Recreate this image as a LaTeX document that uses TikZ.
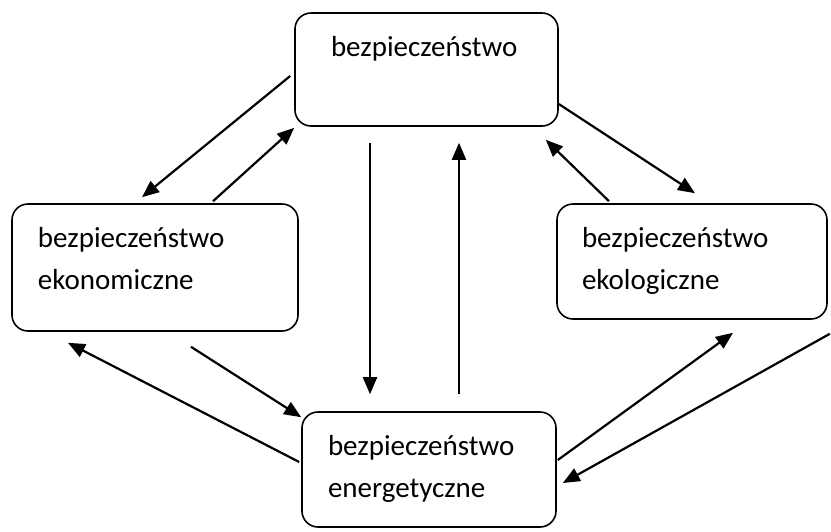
\documentclass[tikz,border=0pt]{standalone}
\usepackage{fontspec}
\setmainfont{Carlito}
\usetikzlibrary{arrows.meta}
\tikzset{
  blok/.style={draw,line width=0.8pt,rounded corners=8pt,align=left,
    inner ysep=0pt,text height=21.5pt,font=\fontsize{14.5}{21}\selectfont},
}
\begin{document}
\begin{tikzpicture}[x=0.5pt,y=-0.5pt,>={Triangle[length=8.5pt,width=7pt]},line width=1.1pt]
  \useasboundingbox (0,0) rectangle (831,531);

  % bloki
  \node[blok,minimum width=131.5pt,minimum height=56.5pt,inner xsep=18pt,text width=95.5pt,
    text depth=35pt] (bezp) at (426.5,69.5) {bezpieczeństwo};
  \node[blok,minimum width=143pt,minimum height=63.5pt,inner xsep=13pt,text width=117pt,
    text depth=42pt] (ekon) at (155,267.5) {bezpieczeństwo\\ekonomiczne};
  \node[blok,minimum width=135pt,minimum height=57.5pt,inner xsep=12.5pt,text width=110pt,
    text depth=36pt] (ekol) at (692,261.5) {bezpieczeństwo\\ekologiczne};
  \node[blok,minimum width=127pt,minimum height=57.5pt,inner xsep=13pt,text width=101pt,
    text depth=36pt] (ener) at (429,469.5) {bezpieczeństwo\\energetyczne};

  % strzałki
  \draw[->] ([shift={(-4,6.5)}]bezp.west) -- ([shift={(-13,-6)}]ekon.north);
  \draw[->] ([shift={(58,-2)}]ekon.north) -- ([shift={(0,1)}]bezp.south west);
  \draw[->] ([shift={(-56.5,16)}]bezp.south) -- ([shift={(-59,-17)}]ener.north);
  \draw[->] ([shift={(30,-17)}]ener.north) -- ([shift={(32.5,16)}]bezp.south);
  \draw[->] ([shift={(0,34.5)}]bezp.east) -- ([shift={(3,-10)}]ekol.north);
  \draw[->] ([shift={(-83,-2)}]ekol.north) -- ([shift={(-13,13)}]bezp.south east);
  \draw[->] ([shift={(36,15)}]ekon.south) -- ([shift={(0,6)}]ener.north west);
  \draw[->] ([shift={(-2,-7.5)}]ener.west) -- ([shift={(-87,11)}]ekon.south);
  \draw[->] ([shift={(1,-9.5)}]ener.east) -- ([shift={(41,13)}]ekol.south);
  \draw[->] ([shift={(2,14)}]ekol.south east) -- ([shift={(6,13.5)}]ener.east);
\end{tikzpicture}
\end{document}
